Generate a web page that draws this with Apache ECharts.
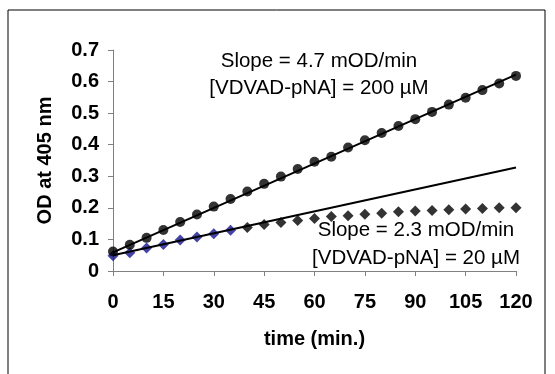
<!DOCTYPE html>
<html>
<head>
<meta charset="utf-8">
<script src="https://cdn.jsdelivr.net/npm/echarts@6/dist/echarts.min.js"></script>
<style>
  html, body { margin: 0; padding: 0; background: #fff; }
  #chart { width: 555px; height: 374px; }
</style>
</head>
<body>
<div id="chart"></div>
<script>
const times = [0, 5, 10, 15, 20, 25, 30, 35, 40, 45, 50, 55, 60, 65, 70, 75, 80, 85, 90, 95, 100, 105, 110, 115, 120];
const od200 = [0.062, 0.083, 0.105, 0.130, 0.155, 0.179, 0.204, 0.228, 0.252, 0.276, 0.299, 0.323, 0.346, 0.362, 0.391, 0.414, 0.437, 0.459, 0.481, 0.504, 0.527, 0.549, 0.573, 0.594, 0.618];
const od20 = [0.048, 0.058, 0.073, 0.084, 0.098, 0.108, 0.118, 0.129, 0.138, 0.147, 0.154, 0.160, 0.166, 0.173, 0.175, 0.180, 0.183, 0.188, 0.190, 0.192, 0.194, 0.196, 0.198, 0.200, 0.200];
// linear fits (endpoints at t = 0 and t = 120)
const fitTimes = [0, 120];
const fit200 = [0.059, 0.622];
const fit20 = [0.050, 0.328];
const xTicks = [0, 15, 30, 45, 60, 75, 90, 105, 120];
const yTicks = [0, 0.1, 0.2, 0.3, 0.4, 0.5, 0.6, 0.7];

const pairs = (xs, ys) => xs.map((x, i) => [x, ys[i]]);
const font = "Liberation Sans, Arial, sans-serif";

const chart = echarts.init(document.getElementById("chart"), null, { renderer: "canvas" });

chart.setOption({
  animation: false,
  backgroundColor: "#fff",
  grid: { left: 113, right: 39, top: 50, bottom: 103 },
  xAxis: {
    type: "value",
    min: xTicks[0],
    max: xTicks[xTicks.length - 1],
    interval: 15,
    name: "time (min.)",
    nameLocation: "middle",
    nameGap: 58,
    nameTextStyle: { fontFamily: font, fontWeight: "bold", fontSize: 20, color: "#000" },
    axisLine: { lineStyle: { color: "#808080", width: 1 } },
    axisTick: { show: true, inside: false, length: 5, lineStyle: { color: "#808080" } },
    axisLabel: { fontFamily: font, fontWeight: "bold", fontSize: 20, color: "#000", margin: 21 },
    splitLine: { show: false }
  },
  yAxis: {
    type: "value",
    min: yTicks[0],
    max: yTicks[yTicks.length - 1],
    interval: 0.1,
    name: "OD at 405 nm",
    nameLocation: "middle",
    nameGap: 58,
    nameTextStyle: { fontFamily: font, fontWeight: "bold", fontSize: 20, color: "#000" },
    axisLine: { show: true, lineStyle: { color: "#808080", width: 1 } },
    axisTick: { show: true, inside: false, length: 5, lineStyle: { color: "#808080" } },
    axisLabel: {
      fontFamily: font, fontWeight: "bold", fontSize: 20, color: "#000", margin: 14,
      formatter: v => (v === 0 ? "0" : v.toFixed(1))
    },
    splitLine: { show: false }
  },
  series: [
    {
      name: "20 uM",
      type: "scatter",
      symbol: "diamond",
      symbolSize: 11,
      data: pairs(times, od20),
      itemStyle: { color: p => (p.dataIndex < 8 ? "#14148c" : "#000") },
      z: 2
    },
    {
      name: "fit 20",
      type: "line",
      data: pairs(fitTimes, fit20),
      symbol: "none",
      lineStyle: { color: "#000", width: 2 },
      z: 3
    },
    {
      name: "200 uM",
      type: "scatter",
      symbol: "circle",
      symbolSize: 10,
      data: pairs(times, od200),
      itemStyle: { color: "#000" },
      z: 2
    },
    {
      name: "fit 200",
      type: "line",
      data: pairs(fitTimes, fit200),
      symbol: "none",
      lineStyle: { color: "#000", width: 2 },
      z: 3
    }
  ],
  graphic: [
    {
      type: "rect",
      shape: { x: 8, y: 10, width: 537, height: 380 },
      style: { fill: "none", stroke: "#000", lineWidth: 1 },
      silent: true,
      z: 0
    },
    {
      type: "text",
      x: 319, y: 75,
      style: {
        text: "Slope = 4.7 mOD/min\n[VDVAD-pNA] = 200 µM",
        font: "20.5px " + font, fill: "#000",
        align: "center", verticalAlign: "middle", lineHeight: 27
      },
      z: 10
    },
    {
      type: "text",
      x: 416, y: 244,
      style: {
        text: "Slope = 2.3 mOD/min\n[VDVAD-pNA] = 20 µM",
        font: "20.5px " + font, fill: "#000",
        align: "center", verticalAlign: "middle", lineHeight: 28
      },
      z: 10
    }
  ]
});
</script>
</body>
</html>
